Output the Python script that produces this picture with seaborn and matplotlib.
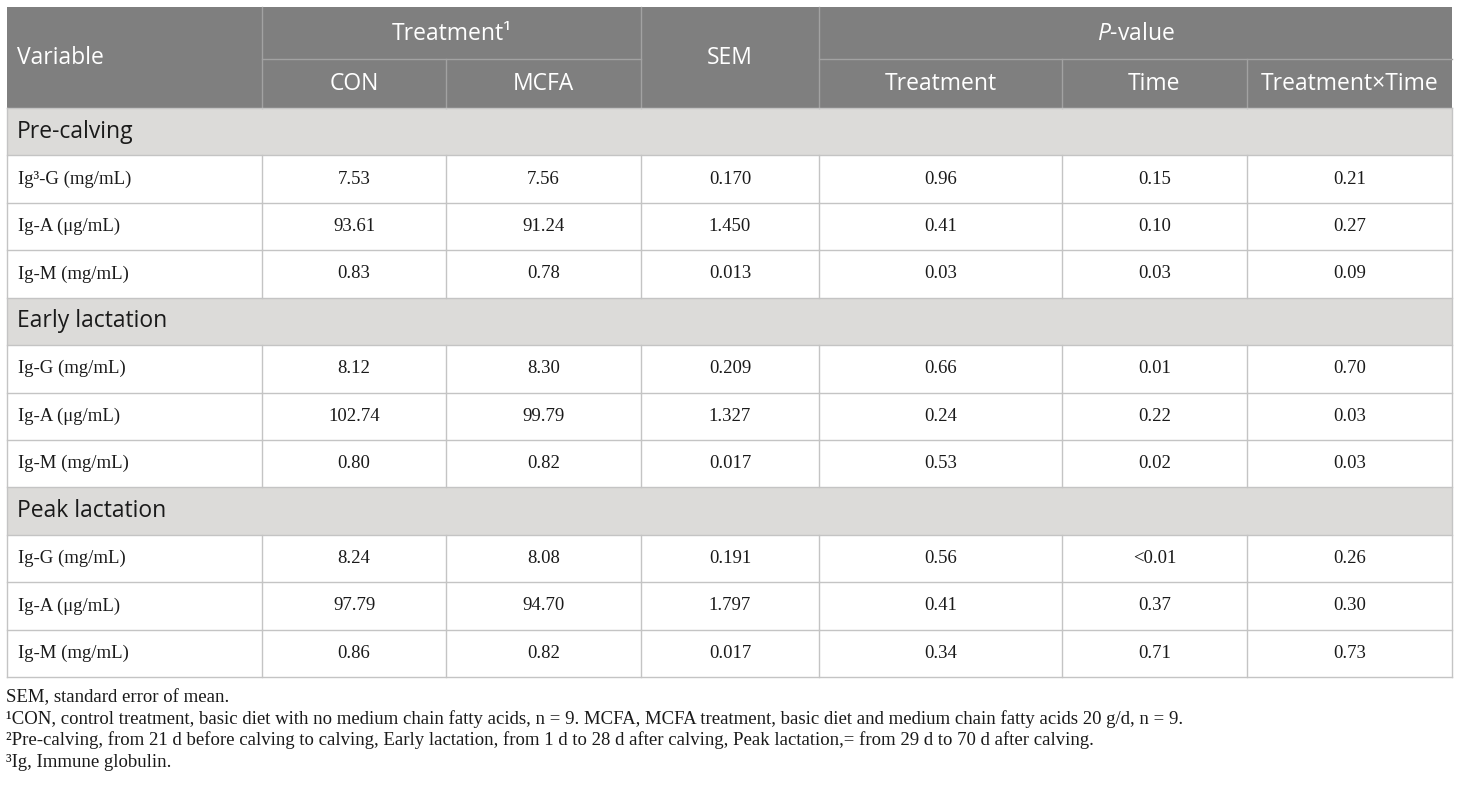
import numpy as np
import seaborn as sns
import matplotlib.pyplot as plt
from matplotlib.colors import ListedColormap

# ----- Table content -----
sections = ["Pre-calving", "Early lactation", "Peak lactation"]
variables = ["Ig\u00b3-G (mg/mL)", "Ig-A (\u03bcg/mL)", "Ig-M (mg/mL)",
             "Ig-G (mg/mL)", "Ig-A (\u03bcg/mL)", "Ig-M (mg/mL)",
             "Ig-G (mg/mL)", "Ig-A (\u03bcg/mL)", "Ig-M (mg/mL)"]
con = ["7.53", "93.61", "0.83", "8.12", "102.74", "0.80", "8.24", "97.79", "0.86"]
mcfa = ["7.56", "91.24", "0.78", "8.30", "99.79", "0.82", "8.08", "94.70", "0.82"]
sem = ["0.170", "1.450", "0.013", "0.209", "1.327", "0.017", "0.191", "1.797", "0.017"]
p_treat = ["0.96", "0.41", "0.03", "0.66", "0.24", "0.53", "0.56", "0.41", "0.34"]
p_time = ["0.15", "0.10", "0.03", "0.01", "0.22", "0.02", "<0.01", "0.37", "0.71"]
p_inter = ["0.21", "0.27", "0.09", "0.70", "0.03", "0.03", "0.26", "0.30", "0.73"]

footnotes = [
    "SEM, standard error of mean.",
    "\u00b9CON, control treatment, basic diet with no medium chain fatty acids, n = 9. "
    "MCFA, MCFA treatment, basic diet and medium chain fatty acids 20 g/d, n = 9.",
    "\u00b2Pre-calving, from 21 d before calving to calving, Early lactation, from 1 d to 28 d "
    "after calving, Peak lactation,= from 29 d to 70 d after calving.",
    "\u00b3Ig, Immune globulin.",
]

# ----- Layout (pixels) -----
W, H = 1460, 786
col_x = [7, 262, 446, 641, 819, 1062, 1247, 1452]
top, head_mid, head_bot, bottom = 7, 59, 108, 677
n_body = 12
row_h = (bottom - head_bot) / n_body

HEAD = "#7f7f7f"
SECT = "#dcdbd9"
LINE = "#c4c4c4"
HLINE = "#a2a2a2"
TXT = "#1a1a1a"
SANS = "Open Sans"
SERIF = "Liberation Serif"

plt.rcParams["mathtext.fontset"] = "custom"
plt.rcParams["mathtext.it"] = "Open Sans:italic"
plt.rcParams["mathtext.rm"] = "Open Sans"

fig = plt.figure(figsize=(W / 100, H / 100), dpi=100)

def frac_axes(x0, y0, x1, y1):
    return fig.add_axes([x0 / W, 1 - y1 / H, (x1 - x0) / W, (y1 - y0) / H])

cmap = ListedColormap(["#ffffff", SECT, HEAD])

# shading for body rows: 1 = section row, 0 = data row
shade = np.zeros((n_body, 1))
rows = []
k = 0
for sec in sections:
    rows.append(("section", sec))
    shade[len(rows) - 1, 0] = 1
    for j in range(3):
        rows.append(("data", k))
        k += 1

ax_body = frac_axes(col_x[0], head_bot, col_x[-1], bottom)
sns.heatmap(shade, ax=ax_body, cmap=cmap, vmin=0, vmax=2, cbar=False,
            xticklabels=False, yticklabels=False, linewidths=0)
ax_body.axis("off")

ax_head = frac_axes(col_x[0], top, col_x[-1], head_bot)
sns.heatmap(np.full((2, 1), 2.0), ax=ax_head, cmap=cmap, vmin=0, vmax=2, cbar=False,
            xticklabels=False, yticklabels=False, linewidths=0)
ax_head.axis("off")

# overlay axes in pixel coordinates for lines and text
ax = fig.add_axes([0, 0, 1, 1], facecolor="none")
ax.set_xlim(0, W)
ax.set_ylim(H, 0)
ax.axis("off")

# header lines
for x in [col_x[1], col_x[3], col_x[4]]:
    ax.plot([x, x], [top, head_bot], color=HLINE, lw=1)
for x in [col_x[2], col_x[5], col_x[6]]:
    ax.plot([x, x], [head_mid, head_bot], color=HLINE, lw=1)
ax.plot([col_x[1], col_x[3]], [head_mid, head_mid], color=HLINE, lw=1)
ax.plot([col_x[4], col_x[-1]], [head_mid, head_mid], color=HLINE, lw=1)

# body lines
for i in range(n_body + 1):
    y = head_bot + i * row_h
    ax.plot([col_x[0], col_x[-1]], [y, y], color=LINE, lw=1)
ax.plot([col_x[0], col_x[0]], [head_bot, bottom], color=LINE, lw=1)
ax.plot([col_x[-1], col_x[-1]], [head_bot, bottom], color=LINE, lw=1)
for i, (kind, _) in enumerate(rows):
    if kind == "data":
        y0 = head_bot + i * row_h
        for x in col_x[1:-1]:
            ax.plot([x, x], [y0, y0 + row_h], color=LINE, lw=1)

def cx(i):
    return (col_x[i] + col_x[i + 1]) / 2

hs = 16.5
bs = 13.5
ax.text(17, (top + head_bot) / 2, "Variable", color="white", fontsize=hs,
        family=SANS, va="center", ha="left")
ax.text((col_x[1] + col_x[3]) / 2, (top + head_mid) / 2 + 1, "Treatment\u00b9", color="white",
        fontsize=hs, family=SANS, va="center", ha="center")
ax.text(cx(3), (top + head_bot) / 2, "SEM", color="white", fontsize=hs,
        family=SANS, va="center", ha="center")
ax.text((col_x[4] + col_x[-1]) / 2, (top + head_mid) / 2 + 1, r"$P$-value", color="white",
        fontsize=hs, family=SANS, va="center", ha="center")
sub = ["CON", "MCFA", None, "Treatment", "Time", "Treatment\u00d7Time"]
for i, lab in enumerate(sub):
    if lab:
        ax.text(cx(i + 1), (head_mid + head_bot) / 2 + 1, lab, color="white",
                fontsize=hs, family=SANS, va="center", ha="center")

cols = [con, mcfa, sem, p_treat, p_time, p_inter]
for i, (kind, val) in enumerate(rows):
    yc = head_bot + (i + 0.5) * row_h
    if kind == "section":
        ax.text(17, yc, val, color=TXT, fontsize=hs, family=SANS, va="center", ha="left")
    else:
        ax.text(18, yc, variables[val], color=TXT, fontsize=bs, family=SERIF,
                va="center", ha="left")
        for c, arr in enumerate(cols):
            ax.text(cx(c + 1), yc, arr[val], color=TXT, fontsize=bs, family=SERIF,
                    va="center", ha="center")

for i, line in enumerate(footnotes):
    ax.text(6, 702 + i * 21.6, line, color=TXT, fontsize=13.5, family=SERIF,
            va="baseline", ha="left")

fig.savefig("out.png", dpi=100)
